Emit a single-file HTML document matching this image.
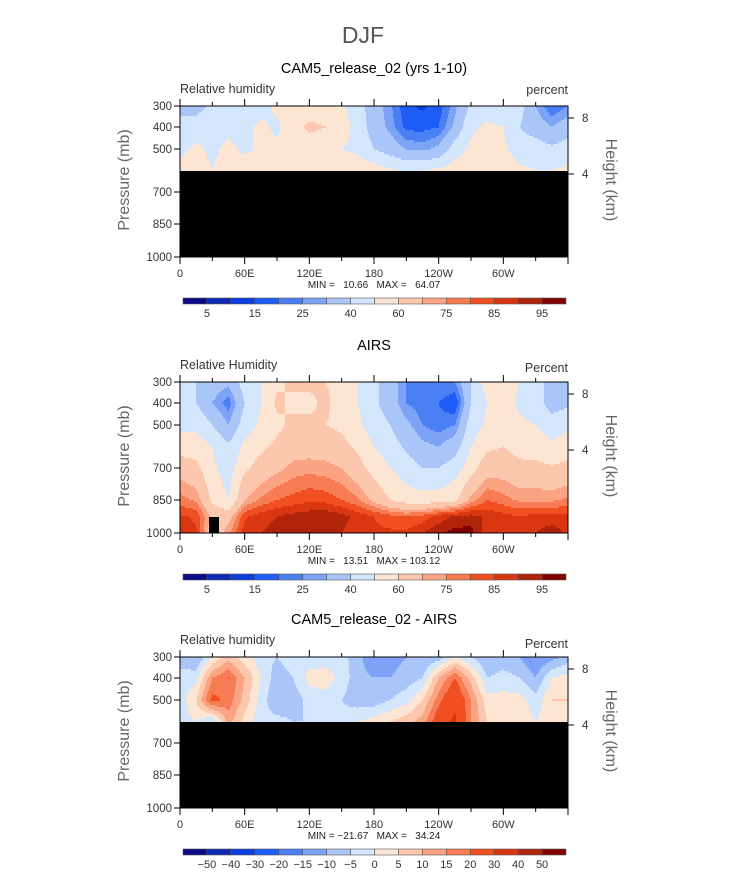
<!DOCTYPE html>
<html><head><meta charset="utf-8"><style>
html,body{margin:0;padding:0;background:#fff}
svg{display:block;font-family:"Liberation Sans",sans-serif}
</style></head><body>
<svg id="fig" width="733" height="872" viewBox="0 0 733 872">
<text x="363" y="43" text-anchor="middle" font-size="23" fill="#555">DJF</text>
</svg>
<script>
// ---- data ----
const lons = [0,15,30,45,60,75,90,105,120,135,150,165,180,195,210,225,240,255,270,285,300,315,330,345,360];
const levelsTop = [300,400,500,600];
const levelsFull = [300,400,500,600,700,850,925,1000];
const rhBounds = [5,10,15,20,25,30,40,50,60,70,75,80,85,90,95];
const rhLabels = ["5","15","25","40","60","75","85","95"];
const diffBounds = [-50,-40,-30,-20,-15,-10,-5,0,5,10,15,20,30,40,50];
const diffLabels = ["−50","−40","−30","−20","−15","−10","−5","0","5","10","15","20","30","40","50"];
const lonTickLabels = ["0","60E","120E","180","120W","60W"];
const presTicks = [300,400,500,700,850,1000];
const heightTicks = ["8","4"];
const camRH = [
[38,42,48,52],[36,45,52,54],[42,48,48,50],[46,48,52,55],[42,48,48,55],[46,52,52,55],
[52,48,52,55],[55,56,54,55],[55,62,55,56],[55,60,54,56],[52,55,50,56],[44,46,48,56],
[35,35,40,55],[26,28,35,52],[16,18,30,48],[14,18,28,50],[17,20,32,52],[28,32,45,55],
[42,48,52,58],[45,52,56,56],[42,50,52,58],[44,40,45,52],[30,35,45,50],[20,30,42,50],[25,35,45,52]];
const airsRH = [
[45,45,48,55,66,77,86,88],[40,40,48,55,63,74,84,86],[35,30,40,50,52,58,68,62],[32,22,30,42,45,50,66,74],
[45,40,45,52,58,70,84,88],[50,50,52,58,64,76,88,90],[58,62,58,62,68,80,90,92],[62,58,62,66,72,82,92,94],
[62,58,62,66,73,84,93,92],[60,62,60,66,72,83,94,92],[58,55,58,63,70,80,92,90],[50,50,52,58,64,76,88,87],
[42,42,45,50,56,68,85,86],[35,35,40,45,50,60,82,86],[25,25,32,38,45,55,80,86],[22,22,25,32,40,54,82,90],
[25,20,22,30,40,55,87,94],[25,15,25,35,45,58,91,97],[40,40,45,50,56,72,92,97],[55,50,52,58,66,80,89,87],
[55,55,55,60,66,77,87,87],[50,48,52,56,63,74,85,85],[45,45,50,55,63,74,87,90],[35,35,45,52,61,74,87,93],[38,38,48,55,63,76,87,89]];
const diffRH = [
[-8,-3,-3,-2],[-10,-2,5,0],[0,15,22,-5],[8,20,18,12],[2,10,8,3],[-3,0,-2,-3],[-5,-8,-10,-3],
[-2,-5,-8,-5],[-3,2,-3,-5],[-3,3,-3,-5],[-3,-2,-5,-3],[-8,-8,-8,0],[-15,-10,-8,2],[-12,-10,-5,5],
[-10,-8,-2,8],[-10,-5,5,12],[-8,10,18,25],[0,20,28,32],[-5,8,15,15],[-10,-5,2,5],[-8,-3,2,3],
[-10,-5,2,5],[-15,-10,-3,0],[-12,0,5,2],[-8,2,5,3]];
const palette = ["#0a0a8a","#0c28b4","#0a3ede","#1f5df8","#4a80f4","#7ca3f5","#aac5f8","#d4e6fb",
"#fde5d3","#fcc8ad","#fba484","#f77b53","#f04f22","#d93712","#b0250a","#800000"];

// ---- helpers ----
const NS="http://www.w3.org/2000/svg";
const svg=document.getElementById('fig');
function mk(tag,attrs,parent){const e=document.createElementNS(NS,tag);for(const k in attrs)e.setAttribute(k,attrs[k]);(parent||svg).appendChild(e);return e;}
const X0=180,X1=568,PW=X1-X0;
const pTick=[300,400,500,700,850,1000], pOff=[0,21,43,86,118,151];
function yOfP(p,top){for(let i=0;i<pTick.length-1;i++){if(p<=pTick[i+1]){const t=(p-pTick[i])/(pTick[i+1]-pTick[i]);return top+pOff[i]+t*(pOff[i+1]-pOff[i]);}}return top+151;}
function xOfLon(l){return X0+l/360*PW;}
function colorIdx(v,b){let k=0;while(k<b.length&&v>=b[k])k++;return k;}
function sample(grid,levels,lonv,py){
  let i=Math.min(lons.length-2,Math.floor(lonv/15));let tx=(lonv-lons[i])/15;
  let j=0;while(j<levels.length-2&&py>levels[j+1])j++;
  let ty=(py-levels[j])/(levels[j+1]-levels[j]);ty=Math.max(0,Math.min(1,ty));
  const a=grid[i][j],b=grid[i+1][j],c=grid[i][j+1],d=grid[i+1][j+1];
  return (a*(1-tx)+b*tx)*(1-ty)+(c*(1-tx)+d*tx)*ty;
}
function pOfY(y,top){const o=y-top;for(let i=0;i<pOff.length-1;i++){if(o<=pOff[i+1]){const t=(o-pOff[i])/(pOff[i+1]-pOff[i]);return pTick[i]+t*(pTick[i+1]-pTick[i]);}}return 1000;}

function panel(cfg){
  const top=cfg.top,bot=top+151;
  const g=mk('g',{});
  
  
  const t=mk('text',{x:374,y:cfg.titleY,'text-anchor':'middle','font-size':14.5,fill:'#000'},g);t.textContent=cfg.title;
  
  
  const s=mk('text',{x:180,y:top-13,'font-size':12.5,fill:'#333'},g);s.textContent=cfg.sub;
  
  
  const u=mk('text',{x:568,y:cfg.unitY,'text-anchor':'end','font-size':12.5,fill:'#333'},g);u.textContent=cfg.unit;
  
  
  const field=mk('g',{'shape-rendering':'crispEdges'},g);
  
  
  const maxP=cfg.levels[cfg.levels.length-1];
  const yEnd=Math.round(yOfP(maxP,top));
  for(let y=top;y<yEnd;y+=2){
    const p=pOfY(y+1,top);
    let runStart=X0,runC=-1;
    for(let x=X0;x<=X1;x++){
      let c=-2;
      if(x<X1){const lon=(x+0.5-X0)/PW*360;c=colorIdx(sample(cfg.grid,cfg.levels,lon,p),cfg.bounds);}
      if(c!==runC){
        if(runC>=0){const r=mk('rect',{x:runStart,y:y,width:x-runStart,height:Math.min(2,yEnd-y),fill:palette[runC]},field);
          
          }
        runStart=x;runC=c;
      }
    }
  }
  if(yEnd<bot){const b=mk('rect',{x:X0,y:yEnd,width:PW,height:bot-yEnd,fill:'#000'},g);
    
    }
  if(cfg.box){const b=mk('rect',{x:209,y:bot-16,width:10,height:16,fill:'#000'},g);
    
    }
  const fr=mk('rect',{x:X0,y:top,width:PW,height:151,fill:'none',stroke:'#000','stroke-width':1},g);
  
  
  for(let l=0;l<=360;l+=30){const x=xOfLon(l);const L=(l%60===0)?7:4;
    mk('line',{x1:x,y1:bot,x2:x,y2:bot+L,stroke:'#000'},g);
    if(l<360) mk('line',{x1:x,y1:top,x2:x,y2:top-L,stroke:'#000'},g);}
  lonTickLabels.forEach((lb,i)=>{const tx=mk('text',{x:xOfLon(i*60),y:bot+20,'text-anchor':'middle','font-size':11,fill:'#333'},g);tx.textContent=lb;
    
    });
  presTicks.forEach(p=>{const y=yOfP(p,top);mk('line',{x1:X0-6,y1:y,x2:X0,y2:y,stroke:'#000'},g);
    const tx=mk('text',{x:X0-8,y:y+4,'text-anchor':'end','font-size':11.5,fill:'#333'},g);tx.textContent=p;
    
    });
  [12,68].forEach((o,i)=>{const y=top+o;mk('line',{x1:X1,y1:y,x2:X1+6,y2:y,stroke:'#000'},g);
    const tx=mk('text',{x:X1+14,y:y+4,'font-size':11.5,fill:'#333'},g);tx.textContent=heightTicks[i];
    
    });
  const yl=mk('text',{x:0,y:0,'text-anchor':'middle','font-size':16,fill:'#666',transform:`translate(129,${top+74}) rotate(-90)`},g);yl.textContent='Pressure (mb)';
  
  
  const yr=mk('text',{x:0,y:0,'text-anchor':'middle','font-size':16,fill:'#666',transform:`translate(606,${top+74}) rotate(90)`},g);yr.textContent='Height (km)';
  
  
  const mm=mk('text',{x:374,y:bot+31,'text-anchor':'middle','font-size':10,fill:'#222',style:'white-space:pre'},g);mm.textContent=cfg.minmax;
  
  
  const cb=mk('g',{},g);
  
  
  const cy=cfg.cbY,bw=(566-183)/16;
  palette.forEach((c,i)=>{const r=mk('rect',{x:183+i*bw,y:cy,width:bw,height:6,fill:c,stroke:'#555','stroke-width':0.6},cb);
    
    });
  cfg.labels.forEach((lb,i)=>{const k=cfg.step*i+1;const tx=mk('text',{x:183+k*bw,y:cy+19,'text-anchor':'middle','font-size':11,fill:'#333'},cb);tx.textContent=lb;
    
    });
}
panel({name:'cam5-panel',top:106,titleY:73,unitY:94,title:'CAM5_release_02 (yrs 1-10)',sub:'Relative humidity',unit:'percent',grid:camRH,levels:levelsTop,bounds:rhBounds,minmax:'MIN =   10.66   MAX =   64.07',cbY:298,labels:rhLabels,step:2});
panel({name:'airs-panel',top:382,titleY:350,unitY:372,title:'AIRS',sub:'Relative Humidity',unit:'Percent',grid:airsRH,levels:levelsFull,bounds:rhBounds,minmax:'MIN =   13.51   MAX = 103.12',cbY:574,labels:rhLabels,step:2,box:true});
panel({name:'difference-panel',top:657,titleY:624,unitY:648,title:'CAM5_release_02 - AIRS',sub:'Relative humidity',unit:'Percent',grid:diffRH,levels:levelsTop,bounds:diffBounds,minmax:'MIN = −21.67   MAX =   34.24',cbY:849,labels:diffLabels,step:1});
</script>
</body></html>
